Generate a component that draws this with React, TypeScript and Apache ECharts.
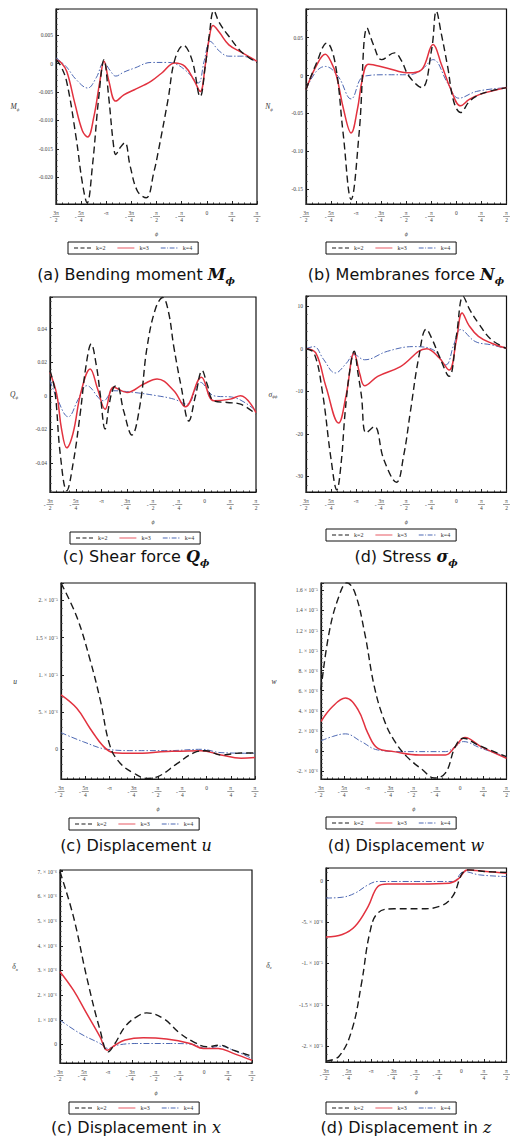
import React, { useEffect, useRef } from 'react';
import * as echarts from 'echarts';

// x values are in units of π/4 (from -3π/2 = -6 to π/2 = 2)
const xTickLabels = ['-3π/2', '-5π/4', '-π', '-3π/4', '-π/2', '-π/4', '0', 'π/4', 'π/2'];
const seriesNames = ['k=2', 'k=3', 'k=4'];
const captions = [
  '(a) Bending moment {mb|M}{sb|ϕ}',
  '(b) Membranes force {mb|N}{sb|ϕ}',
  '(c) Shear force {mb|Q}{sb|ϕ}',
  '(d) Stress {mb|σ}{sb|ϕ}',
  '(c) Displacement {mi|u}',
  '(d) Displacement {mi|w}',
  '(c) Displacement in {mi|x}',
  '(d) Displacement in {mi|z}',
];
const yNames = ['{i|M}{s|ϕ}', '{i|N}{s|ϕ}', '{i|Q}{s|ϕ}', '{i|σ}{s|ϕϕ}', '{i|u}', '{i|w}', '{i|δ}{s|x}', '{i|δ}{s|z}'];

// (a) Bending moment
const bendK2 = [[-6,0.0007],[-5.8,-0.0005],[-5.57,-0.0033],[-5.2,-0.013],[-4.95,-0.021],[-4.76,-0.0245],[-4.55,-0.018],[-4.3,-0.006],[-4.09,0.0007],[-3.9,-0.006],[-3.72,-0.014],[-3.62,-0.016],[-3.45,-0.0148],[-3.26,-0.0139],[-3.05,-0.018],[-2.75,-0.0225],[-2.41,-0.0236],[-2.1,-0.019],[-1.94,-0.0157],[-1.54,-0.0063],[-1.27,0.0007],[-0.93,0.0032],[-0.59,0.0007],[-0.26,-0.0058],[-0.06,-0.0005],[0.1,0.005],[0.28,0.0093],[0.5,0.0072],[0.88,0.0048],[1.42,0.0019],[2,0.0002]];
const bendK3 = [[-6,0.0007],[-5.8,0.0002],[-5.57,-0.0014],[-5.25,-0.007],[-4.95,-0.0118],[-4.74,-0.0129],[-4.5,-0.0095],[-4.25,-0.003],[-4.09,0.0004],[-3.9,-0.003],[-3.62,-0.0066],[-3.3,-0.0055],[-2.88,-0.0046],[-2.5,-0.0038],[-2.21,-0.0031],[-1.8,-0.0017],[-1.27,0.0001],[-0.87,-0.0005],[-0.5,-0.003],[-0.26,-0.0049],[-0.05,0.0],[0.1,0.0045],[0.25,0.0067],[0.5,0.0055],[0.88,0.0033],[1.42,0.0019],[2,0.0004]];
const bendK4 = [[-6,0.001],[-5.6,-0.0005],[-5.2,-0.0028],[-4.74,-0.0043],[-4.4,-0.0025],[-4.09,0.0002],[-3.85,-0.0012],[-3.62,-0.0022],[-3.3,-0.0015],[-2.88,-0.0008],[-2.21,0.0002],[-1.6,0.0002],[-1.27,0],[-0.87,-0.0011],[-0.55,-0.0025],[-0.33,-0.0034],[-0.1,0.0005],[0.14,0.0039],[0.5,0.0022],[0.88,0.0013],[1.42,0.0013],[2,0.0002]];

// (b) Membrane force
const membK2 = [[-6,-0.0185],[-5.6,0.015],[-5.17,0.043],[-4.84,0.017],[-4.52,-0.076],[-4.2,-0.164],[-3.88,-0.076],[-3.56,0.063],[-3.3,0.04],[-2.98,0.021],[-2.47,0.03],[-2.2,0.02],[-1.89,-0.001],[-1.38,-0.016],[-0.99,0.034],[-0.8,0.085],[-0.6,0.055],[-0.35,0.012],[-0.1,-0.035],[0.17,-0.049],[0.5,-0.035],[0.81,-0.027],[1.32,-0.021],[2,-0.016]];
const membK3 = [[-6,-0.0185],[-5.6,0.012],[-5.23,0.028],[-5.0,0.018],[-4.78,-0.001],[-4.5,-0.045],[-4.2,-0.076],[-3.95,-0.045],[-3.75,-0.005],[-3.5,0.015],[-2.79,0.010],[-1.89,0.0035],[-1.38,0.008],[-0.93,0.041],[-0.6,0.015],[-0.22,-0.0185],[0.17,-0.040],[0.5,-0.032],[0.94,-0.025],[2,-0.016]];
const membK4 = [[-6,-0.0185],[-5.6,0.005],[-5.23,0.012],[-4.72,-0.001],[-4.2,-0.031],[-3.69,-0.001],[-2.79,0.001],[-1.89,0.001],[-1.38,0.008],[-0.93,0.021],[-0.35,-0.010],[0.1,-0.030],[0.81,-0.021],[2,-0.016]];

// (c) Shear force
const shearK2 = [[-6,0.0149],[-5.81,0.003],[-5.6,-0.035],[-5.35,-0.0565],[-5.1,-0.04],[-4.83,-0.011],[-4.6,0.018],[-4.4,0.0308],[-4.2,0.018],[-4.05,0.001],[-3.86,-0.0198],[-3.7,-0.005],[-3.53,0.005],[-3.4,0.006],[-3.14,-0.009],[-2.82,-0.0234],[-2.5,-0.005],[-2.23,0.029],[-1.9,0.052],[-1.62,0.0585],[-1.4,0.05],[-1.19,0.029],[-0.9,0.005],[-0.61,-0.015],[-0.35,0.0],[-0.09,0.015],[0.1,0.007],[0.36,-0.003],[0.88,-0.004],[1.4,-0.005],[2,-0.011]];
const shearK3 = [[-6,0.0139],[-5.74,0.001],[-5.55,-0.02],[-5.35,-0.031],[-5.1,-0.022],[-4.8,0.002],[-4.44,0.016],[-4.15,0.004],[-3.86,-0.008],[-3.53,0.005],[-3.01,0.002],[-2.36,0.007],[-1.84,0.010],[-1.19,0.003],[-0.74,-0.0066],[-0.12,0.011],[0.36,-0.003],[1.0,-0.002],[1.4,0.0],[2,-0.010]];
const shearK4 = [[-6,0.009],[-5.74,-0.001],[-5.29,-0.0125],[-4.9,-0.002],[-4.57,0.006],[-3.92,-0.003],[-3.53,0.003],[-2.75,0.002],[-1.84,0.0],[-1.19,-0.002],[-0.68,-0.005],[-0.16,0.008],[0.36,0.0],[1.14,-0.001],[2,-0.009]];

// (d) Stress
const stressK2 = [[-6,0],[-5.68,-1.0],[-5.35,-10],[-5.0,-26],[-4.77,-33.2],[-4.6,-27],[-4.44,-15],[-4.25,-5],[-4.08,-0.6],[-3.92,-6],[-3.79,-11],[-3.6,-19.8],[-3.27,-18.3],[-2.9,-26],[-2.39,-31.4],[-2.1,-25],[-1.84,-15],[-1.5,-2],[-1.2,4.6],[-0.95,2],[-0.68,-1.8],[-0.29,-6.5],[0,3],[0.27,12.3],[0.55,9],[0.88,6.0],[1.4,2.1],[2,0.1]];
const stressK3 = [[-6,0],[-5.61,-1],[-5.2,-9],[-4.7,-17.5],[-4.4,-11],[-4.08,-1.0],[-3.85,-6],[-3.66,-8.7],[-3.14,-6.5],[-2.23,-4.2],[-1.19,0],[-0.68,-2.2],[-0.29,-5.0],[0,2],[0.23,8.4],[0.5,5.5],[0.88,2.9],[1.4,1.3],[2,0.1]];
const stressK4 = [[-6,0],[-5.68,0.5],[-5.3,-2.5],[-4.83,-5.7],[-4.4,-3.5],[-4.08,-1.4],[-3.66,-2.6],[-2.75,-0.6],[-1.71,0.5],[-0.94,-0.2],[-0.42,-3.8],[-0.1,1],[0.17,4.5],[0.75,1.7],[1.4,0.9],[2,0]];

// (e) Displacement u
const uK2 = [[-6,2.233e-5],[-5.35,1.78e-5],[-4.8,1.2e-5],[-4.38,6.6e-6],[-3.97,3.6e-7],[-3.55,-1.9e-6],[-3.0,-3.2e-6],[-2.45,-3.9e-6],[-2.03,-3.7e-6],[-1.2,-1.9e-6],[-0.51,-4.5e-7],[-0.02,-2e-7],[0.6,-7.6e-7],[1.43,-5e-7],[2,-5e-7]];
const uK3 = [[-6,7.3e-6],[-5.35,5.5e-6],[-4.8,2.8e-6],[-4.24,3.6e-7],[-3.83,-4.5e-7],[-3.0,-5.4e-7],[-1.62,-3e-7],[-0.23,-1.8e-7],[0.6,-7.6e-7],[1.43,-1.2e-6],[2,-1.1e-6]];
const uK4 = [[-6,2.24e-6],[-5.07,1.0e-6],[-4.1,0],[-3.0,-1.8e-7],[-1.6,-1.8e-7],[-0.2,0],[0.6,-4.5e-7],[2,-5.4e-7]];

// (f) Displacement w
const wK2 = [[-6,6.1e-6],[-5.65,1.18e-5],[-5.23,1.54e-5],[-4.88,1.677e-5],[-4.54,1.58e-5],[-4.12,1.18e-5],[-3.7,6.4e-6],[-3.28,3.1e-6],[-2.86,1.1e-6],[-2.3,-5.7e-7],[-1.61,-1.9e-6],[-1.12,-2.7e-6],[-0.63,-2.2e-6],[-0.21,4.3e-7],[0.14,1.27e-6],[0.76,6e-7],[2,-5.7e-7]];
const wK3 = [[-6,2.93e-6],[-5.51,4.4e-6],[-4.95,5.27e-6],[-4.4,4.1e-6],[-3.98,1.77e-6],[-3.56,2.7e-7],[-2.86,-7e-8],[-1.75,-4e-7],[-0.63,-4e-7],[-0.21,4.3e-7],[0.21,1.33e-6],[0.9,4.3e-7],[2,-7.3e-7]];
const wK4 = [[-6,1.0e-6],[-5.51,1.43e-6],[-4.95,1.7e-6],[-4.26,9.3e-7],[-3.56,1e-7],[-2.44,-7e-8],[-0.63,-7e-8],[-0.21,4.3e-7],[0.14,9.3e-7],[0.9,2.7e-7],[2,-5.7e-7]];

// (g) Displacement in x
const dxK2 = [[-6,7.0e-6],[-5.44,5.18e-6],[-4.89,2.74e-6],[-4.33,5.8e-7],[-3.99,-3.0e-7],[-3.71,4e-8],[-3.29,7.2e-7],[-2.81,1.12e-6],[-2.39,1.28e-6],[-1.69,1.05e-6],[-1.0,4.5e-7],[-0.44,1.1e-7],[0.11,-9e-8],[0.67,-3e-8],[1.22,-2.3e-7],[2,-4.7e-7]];
const dxK3 = [[-6,2.95e-6],[-5.44,2.2e-6],[-4.89,1.26e-6],[-4.33,3.1e-7],[-4.03,-2.3e-7],[-3.71,-3e-8],[-3.29,1.8e-7],[-2.53,2.7e-7],[-1.56,2.2e-7],[-0.58,4e-8],[-0.03,-1.6e-7],[0.6,-1.6e-7],[1.22,-3.6e-7],[2,-6.4e-7]];
const dxK4 = [[-6,9.9e-7],[-5.17,4.5e-7],[-4.33,4e-8],[-3.99,-1.6e-7],[-3.64,-3e-8],[-2.8,4e-8],[-1.4,4e-8],[-0.5,1e-8],[0.1,-1.6e-7],[0.67,-7e-8],[1.22,-2.3e-7],[2,-5.7e-7]];

// (h) Displacement in z
const dzK2 = [[-6,-2.18e-5],[-5.42,-2.12e-5],[-4.85,-1.8e-5],[-4.42,-1.23e-5],[-4.06,-6.3e-6],[-3.7,-3.9e-6],[-2.98,-3.4e-6],[-1.83,-3.4e-6],[-0.96,-3.1e-6],[-0.39,-1.9e-6],[0.04,9e-7],[0.33,1.3e-6],[1.1,1.1e-6],[2,1.0e-6]];
const dzK3 = [[-6,-6.8e-6],[-5.28,-6.5e-6],[-4.71,-5.5e-6],[-4.13,-3.1e-6],[-3.7,-7e-7],[-3.27,-4e-7],[-1.83,-4e-7],[-0.53,-3e-7],[-0.1,3e-7],[0.26,1.3e-6],[1.1,1.1e-6],[2,9e-7]];
const dzK4 = [[-6,-2.1e-6],[-5.28,-2.0e-6],[-4.71,-1.5e-6],[-4.13,-5e-7],[-3.7,-1e-7],[-1.83,-1e-7],[-0.39,-1e-7],[0.12,1.1e-6],[0.8,7e-7],[2,5e-7]];

const panelData = [
  [bendK2, bendK3, bendK4],
  [membK2, membK3, membK4],
  [shearK2, shearK3, shearK4],
  [stressK2, stressK3, stressK4],
  [uK2, uK3, uK4],
  [wK2, wK3, wK4],
  [dxK2, dxK3, dxK4],
  [dzK2, dzK3, dzK4],
];
const yMins = [-0.0247, -0.17, -0.0573, -33.7, -3.99e-6, -2.8e-6, -7.5e-7, -2.19e-5];
const yMaxs = [0.0096, 0.088, 0.0588, 12.4, 2.234e-5, 1.674e-5, 7.07e-6, 1.53e-6];
const ySplits = [7, 5, 6, 5, 5, 10, 8, 5];
const yFormats = ['f3', 'f2', 'f2', 'int', 'sci', 'sci', 'sci', 'sci'];

// layout (pixels)
const grids = [
  { left: 56, top: 9, width: 201, height: 195 },
  { left: 306, top: 9, width: 207, height: 195 },
  { left: 50, top: 297, width: 206, height: 195 },
  { left: 306, top: 296, width: 207, height: 196 },
  { left: 61, top: 583, width: 194, height: 196 },
  { left: 321, top: 583, width: 192, height: 196 },
  { left: 60, top: 870, width: 192, height: 193 },
  { left: 326, top: 868, width: 185, height: 194 },
];
const nameGaps = [41, 37, 36, 33, 46, 47, 45, 57];
const legendPos = [
  [68, 242], [326, 242], [70, 532], [326, 529], [69, 818], [326, 817], [69, 1102], [326, 1102],
];
const titlePos = [
  [136, 263], [406, 263], [136, 545], [406, 545], [136, 834], [406, 834], [136, 1116], [406, 1116],
];

const lineStyles = [
  { color: '#1a1a1a', width: 1.4, type: [7, 4] },
  { color: '#e2323f', width: 1.5, type: 'solid' },
  { color: '#4d68b3', width: 1.0, type: [6, 2, 1.5, 2] },
];
const legendIcons = [
  'path://M0,0H5V1H0Z M8,0H13V1H8Z M16,0H21V1H16Z',
  'path://M0,0H21V1H0Z',
  'path://M0,0H6V1H0Z M8,0H9V1H8Z M11,0H17V1H11Z M19,0H20V1H19Z M20.5,0H21V1H20.5Z',
];

const SUP: Record<string, string> = { '-': '⁻', '0': '⁰', '1': '¹', '2': '²', '3': '³', '4': '⁴', '5': '⁵', '6': '⁶', '7': '⁷', '8': '⁸', '9': '⁹' };
function sciLabel(v: number): string {
  if (Math.abs(v) < 1e-13) return '0';
  const e = Math.floor(Math.log10(Math.abs(v)) + 1e-9);
  const m = Math.round((v / Math.pow(10, e)) * 10) / 10;
  const ms = Number.isInteger(m) ? `${m}.` : `${m}`;
  const es = String(e).split('').map((c) => SUP[c] || c).join('');
  return `${ms} × 10${es}`;
}
function yLabel(fmt: string, v: number): string {
  if (fmt === 'sci') return sciLabel(v);
  if (Math.abs(v) < 1e-12) return '0';
  if (fmt === 'f3') return v.toFixed(3);
  if (fmt === 'f2') return v.toFixed(2);
  return String(Math.round(v));
}
function xLabel(v: number): string {
  const s = xTickLabels[Math.round(v) + 6];
  if (s === undefined) return '';
  if (!s.includes('/')) return `{t|${s}}`;
  const neg = s.startsWith('-');
  const body = neg ? s.slice(1) : s;
  const [num, den] = body.split('/');
  return `{n|${num}}\n${neg ? '{m|-}' : ''}{b| }${neg ? '{h|-}' : ''}\n{d|${den}}`;
}

const LABEL_COLOR = '#444';
const SERIF = 'Liberation Serif';
const xRich = {
  t: { fontSize: 5.5, lineHeight: 6, align: 'center', fontFamily: SERIF, color: LABEL_COLOR },
  n: { fontSize: 5.5, lineHeight: 5.5, align: 'center', fontFamily: SERIF, color: LABEL_COLOR },
  m: { fontSize: 5.5, lineHeight: 2, align: 'center', fontFamily: SERIF, color: LABEL_COLOR, padding: [0, 1, 0, 0] },
  h: { fontSize: 5.5, lineHeight: 2, align: 'center', fontFamily: SERIF, color: 'rgba(0,0,0,0)', padding: [0, 0, 0, 1] },
  b: { fontSize: 1, width: 7, height: 0.6, lineHeight: 2, align: 'center', backgroundColor: '#555' },
  d: { fontSize: 5.5, lineHeight: 5.5, align: 'center', fontFamily: SERIF, color: LABEL_COLOR },
};

export default function App() {
  const ref = useRef<HTMLDivElement>(null);
  useEffect(() => {
    if (!ref.current) return;
    const chart = echarts.init(ref.current, undefined, { renderer: 'svg' });
    const xAxis: any[] = [];
    const yAxis: any[] = [];
    const series: any[] = [];
    const legend: any[] = [];
    const title: any[] = [];
    const grid: any[] = [];
    for (let i = 0; i < 8; i++) {
      grid.push({ ...grids[i], show: true, borderColor: '#111', borderWidth: 1.2, backgroundColor: 'transparent', containLabel: false });
      xAxis.push({
        type: 'value', gridIndex: i, min: -6, max: 2, interval: 1,
        name: 'ϕ', nameLocation: 'middle', nameGap: 30,
        nameTextStyle: { fontFamily: SERIF, fontStyle: 'italic', fontSize: 6, color: LABEL_COLOR, align: 'center', verticalAlign: 'middle' },
        axisLine: { onZero: false, lineStyle: { color: '#111', width: 1.2 } },
        axisTick: { inside: true, length: 3, lineStyle: { color: '#222' } },
        minorTick: { show: true, splitNumber: 4, length: 1.5, lineStyle: { color: '#333' } },
        splitLine: { show: false },
        axisLabel: { margin: 6, formatter: xLabel, rich: xRich, color: LABEL_COLOR, fontSize: 5.5, fontFamily: SERIF },
      });
      const fmt = yFormats[i];
      yAxis.push({
        type: 'value', gridIndex: i, min: yMins[i], max: yMaxs[i], splitNumber: ySplits[i],
        name: yNames[i], nameLocation: 'middle', nameGap: nameGaps[i], nameRotate: 0,
        nameTextStyle: {
          align: 'center', verticalAlign: 'middle', color: '#333', lineHeight: 10,
          rich: {
            i: { fontFamily: SERIF, fontStyle: 'italic', fontSize: 7.5, color: '#333', lineHeight: 10 },
            s: { fontFamily: SERIF, fontStyle: 'italic', fontSize: 5, color: '#333', verticalAlign: 'bottom' },
          },
        },
        axisLine: { onZero: false, lineStyle: { color: '#111', width: 1.2 } },
        axisTick: { inside: true, length: 3, lineStyle: { color: '#222' } },
        minorTick: { show: true, splitNumber: 5, length: 1.5, lineStyle: { color: '#333' } },
        splitLine: { show: false },
        axisLabel: {
          margin: 3, fontSize: 5.5, fontFamily: SERIF, color: LABEL_COLOR,
          showMinLabel: false, showMaxLabel: false,
          formatter: (v: number) => yLabel(fmt, v),
        },
      });
      for (let k = 0; k < 3; k++) {
        series.push({
          type: 'line', name: seriesNames[k], xAxisIndex: i, yAxisIndex: i,
          data: panelData[i][k], symbol: 'none', showSymbol: false, smooth: 0.4,
          lineStyle: lineStyles[k], itemStyle: { color: lineStyles[k].color }, clip: true,
          z: 3 - k,
        });
      }
      legend.push({
        left: legendPos[i][0], top: legendPos[i][1], orient: 'horizontal',
        data: seriesNames.map((n, k) => ({ name: n, icon: legendIcons[k] })),
        selectedMode: false,
        itemWidth: 17, itemHeight: 1.3, itemGap: 12, padding: [3, 6],
        borderColor: '#111', borderWidth: 1, backgroundColor: '#fff',
        textStyle: { fontFamily: SERIF, fontSize: 6, color: '#333' },
      });
      title.push({
        text: captions[i], left: titlePos[i][0], top: titlePos[i][1], textAlign: 'center', padding: 0,
        textStyle: {
          fontFamily: 'DejaVu Sans', fontSize: 16, fontWeight: 'normal', color: '#111', lineHeight: 22,
          rich: {
            mb: { fontFamily: 'DejaVu Serif', fontStyle: 'italic', fontWeight: 'bold', fontSize: 16, color: '#111', lineHeight: 22 },
            sb: { fontFamily: 'DejaVu Serif', fontStyle: 'italic', fontWeight: 'bold', fontSize: 10, color: '#111', verticalAlign: 'bottom' },
            mi: { fontFamily: 'DejaVu Serif', fontStyle: 'italic', fontSize: 16, color: '#111', lineHeight: 22 },
          },
        },
      });
    }
    chart.setOption({
      animation: false,
      backgroundColor: '#fff',
      grid, xAxis, yAxis, series, legend, title,
    });
    return () => chart.dispose();
  }, []);
  return <div ref={ref} style={{ position: 'absolute', left: 0, top: 0, width: 513, height: 1146 }} />;
}
